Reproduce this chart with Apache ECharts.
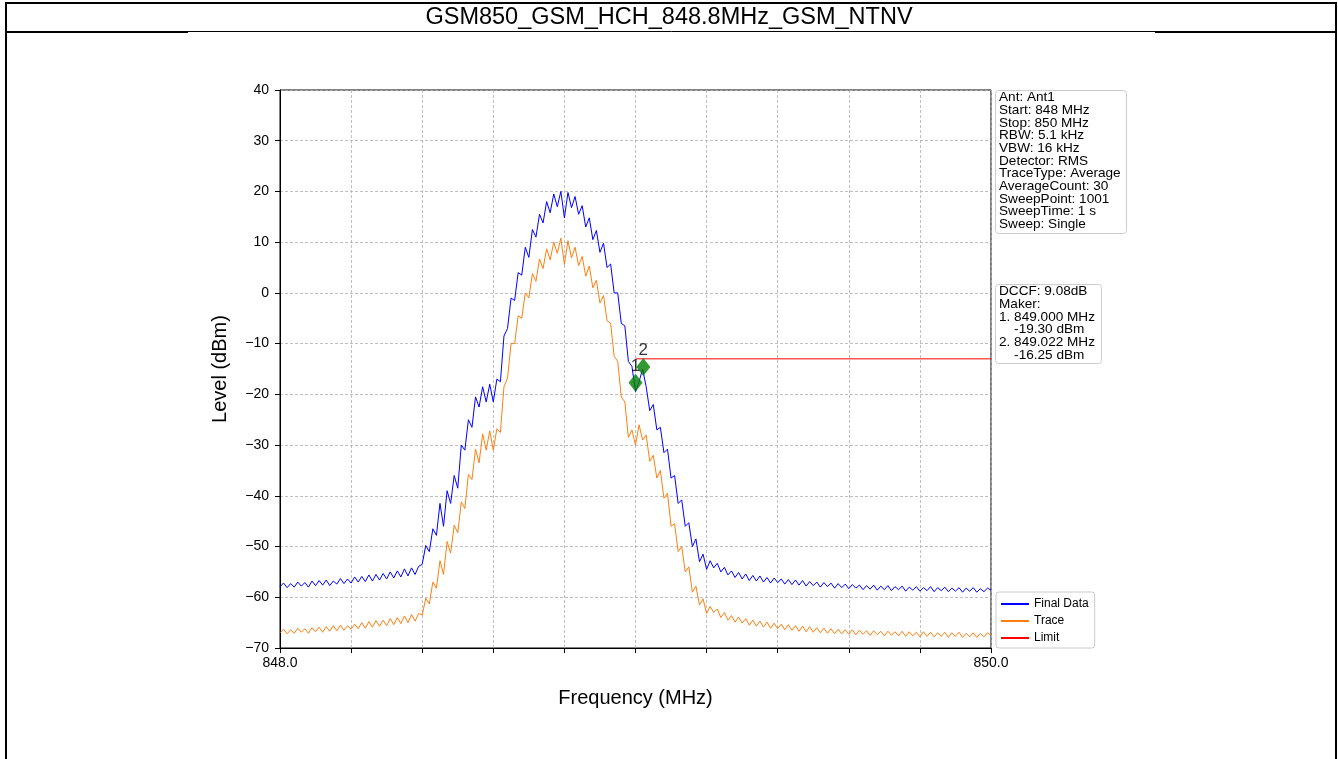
<!DOCTYPE html>
<html>
<head>
<meta charset="utf-8">
<script src="https://cdn.jsdelivr.net/npm/echarts@6/dist/echarts.min.js"></script>
<style>
html,body{margin:0;padding:0;background:#fff;}
#chart{width:1338px;height:759px;}
</style>
</head>
<body>
<div id="chart"></div>
<script>
// ---- data ----
const chartTitle = 'GSM850_GSM_HCH_848.8MHz_GSM_NTNV';
const startFreq = 848.0;   // MHz
const stepFreq = 0.01;     // MHz, sweep spacing of sampled points
const finalData = [
-57.9,-57.2,-58.1,-57.3,-58.0,-57.0,-57.8,-57.1,-58.0,-56.8,
-57.7,-56.7,-57.6,-56.6,-57.7,-56.8,-57.4,-56.3,-57.3,-56.4,
-57.2,-56.0,-57.0,-55.9,-56.9,-55.6,-56.8,-55.5,-56.6,-55.3,
-56.4,-55.0,-56.2,-54.8,-56.0,-54.4,-55.8,-54.2,-55.5,-53.9,
-53.5,-49.8,-51.0,-46.5,-47.8,-41.5,-46.0,-39.0,-41.5,-36.0,
-38.5,-30.0,-31.0,-25.0,-26.5,-20.5,-22.5,-18.5,-21.5,-18.0,
-21.5,-17.0,-17.5,-8.5,-7.0,-1.0,-1.5,4.0,3.5,9.0,
7.0,12.5,11.0,15.5,13.8,18.0,15.8,19.5,17.0,20.0,
14.8,19.8,16.8,19.0,15.5,17.2,13.0,14.8,10.5,12.3,
8.0,9.8,5.0,5.7,0.0,0.0,-6.0,-6.5,-13.5,-14.5,
-19.5,-17.5,-15.0,-18.5,-23.2,-22.0,-27.0,-26.5,-31.5,-30.8,
-36.5,-36.0,-41.5,-40.8,-46.0,-45.3,-50.0,-48.5,-53.0,-51.5,
-54.5,-52.8,-54.2,-53.3,-55.0,-54.1,-55.6,-54.8,-56.1,-55.1,
-56.4,-55.4,-56.7,-55.7,-56.8,-55.8,-57.0,-56.1,-57.2,-56.2,
-57.1,-56.4,-57.4,-56.5,-57.5,-56.6,-57.6,-56.7,-57.8,-56.9,
-57.7,-57.0,-58.0,-57.1,-57.9,-57.2,-58.2,-57.3,-58.1,-57.4,
-58.3,-57.5,-58.2,-57.6,-58.5,-57.7,-58.4,-57.6,-58.6,-57.8,
-58.5,-57.7,-58.7,-57.9,-58.5,-57.8,-58.8,-58.0,-58.6,-57.9,
-58.8,-58.1,-58.7,-57.9,-58.9,-58.1,-58.7,-58.0,-58.9,-58.2,
-58.8,-58.1,-59.0,-58.2,-58.8,-58.1,-59.0,-58.3,-58.9,-58.2,
-58.6
];
const traceData = [
-67.0,-66.3,-67.2,-66.4,-67.1,-66.1,-66.9,-66.2,-67.1,-66.0,
-66.8,-65.9,-66.9,-65.8,-66.7,-65.6,-66.6,-65.5,-66.5,-65.6,
-66.3,-65.3,-66.2,-65.0,-66.1,-64.8,-65.9,-64.6,-65.7,-64.5,
-65.6,-64.2,-65.4,-64.0,-65.2,-63.7,-65.0,-63.4,-64.7,-63.2,
-63.5,-60.2,-61.3,-57.0,-58.2,-52.8,-55.5,-49.0,-51.3,-45.8,
-47.3,-41.2,-42.5,-35.8,-36.8,-30.8,-33.5,-27.8,-31.0,-27.2,
-31.0,-26.8,-27.5,-18.5,-16.8,-10.0,-10.0,-4.5,-5.0,0.0,
-1.0,3.8,2.3,6.7,4.8,8.7,6.5,10.0,7.8,10.8,
5.6,10.3,6.9,9.0,5.4,7.2,3.3,5.3,1.0,2.5,
-2.0,-0.5,-5.5,-6.0,-12.5,-13.5,-20.5,-21.5,-28.5,-27.0,
-30.0,-26.0,-29.0,-28.0,-33.2,-32.0,-36.5,-35.0,-40.5,-39.5,
-46.0,-45.5,-51.0,-50.0,-55.0,-54.0,-59.0,-57.8,-61.5,-60.3,
-63.2,-61.8,-63.0,-62.3,-64.0,-63.0,-64.5,-63.6,-64.9,-63.9,
-65.1,-64.2,-65.5,-64.5,-65.7,-64.7,-65.9,-64.9,-66.1,-65.1,
-66.2,-65.3,-66.4,-65.4,-66.5,-65.6,-66.7,-65.7,-66.8,-65.8,
-66.9,-66.0,-67.0,-66.1,-67.1,-66.2,-67.2,-66.3,-67.2,-66.4,
-67.3,-66.4,-67.4,-66.5,-67.3,-66.6,-67.5,-66.6,-67.4,-66.7,
-67.6,-66.7,-67.5,-66.8,-67.6,-66.7,-67.7,-66.8,-67.6,-66.9,
-67.8,-66.8,-67.7,-66.9,-67.8,-67.0,-67.7,-66.9,-67.9,-67.0,
-67.7,-66.9,-67.9,-67.1,-67.8,-67.0,-67.9,-67.1,-67.8,-67.0,
-67.5
];
const limitFreqs = [849.0, 850.0];
const limitLevels = [-13, -13];
const markerNames = ['1', '2'];
const markerFreqs = [849.000, 849.022];
const markerLevels = [-17.7, -14.6];
const infoLines = ['Ant: Ant1','Start: 848 MHz','Stop: 850 MHz','RBW: 5.1 kHz','VBW: 16 kHz','Detector: RMS','TraceType: Average','AverageCount: 30','SweepPoint: 1001','SweepTime: 1 s','Sweep: Single'];
const markerLines = ['DCCF: 9.08dB','Maker:','1. 849.000 MHz','    -19.30 dBm','2. 849.022 MHz','    -16.25 dBm'];
const yMin = -70, yMax = 40, yStep = 10;
const xMin = 848, xMax = 850, xStep = 0.2;
// ----------------------------------------------

const freqOf = i => +(startFreq + i * stepFreq).toFixed(3);
const finalPts = finalData.map((v, i) => [freqOf(i), v]);
const tracePts = traceData.map((v, i) => [freqOf(i), v]);
const limitPts = limitFreqs.map((f, i) => [f, limitLevels[i]]);
const markerPts = markerFreqs.map((f, i) => ({value: [f, markerLevels[i]], name: markerNames[i]}));

const FONT = 'Liberation Sans, Arial, sans-serif';
const chart = echarts.init(document.getElementById('chart'), null, {renderer: 'canvas'});

const gridStyle = {show: true, lineStyle: {color: '#b0b0b0', width: 0.8, type: [3, 2]}};

chart.setOption({
  animation: false,
  backgroundColor: '#fff',
  grid: {left: 280, top: 90, right: 347, bottom: 111, show: true, borderColor: '#000', borderWidth: 1, backgroundColor: 'transparent'},
  xAxis: {
    type: 'value', min: xMin, max: xMax, interval: xStep,
    name: 'Frequency (MHz)', nameLocation: 'middle', nameGap: 40,
    nameTextStyle: {fontFamily: FONT, fontSize: 20, color: '#000'},
    axisLine: {show: true, onZero: false, lineStyle: {color: '#000', width: 1}},
    axisTick: {show: true, length: 5, lineStyle: {color: '#000'}},
    axisLabel: {
      fontFamily: FONT, fontSize: 14, color: '#000', margin: 8,
      showMinLabel: true, showMaxLabel: true,
      formatter: v => (Math.abs(v - xMin) < 1e-6 || Math.abs(v - xMax) < 1e-6) ? v.toFixed(1) : ''
    },
    splitLine: gridStyle
  },
  yAxis: {
    type: 'value', min: yMin, max: yMax, interval: yStep,
    name: 'Level (dBm)', nameLocation: 'middle', nameGap: 50, nameRotate: 90,
    nameTextStyle: {fontFamily: FONT, fontSize: 20, color: '#000'},
    axisLine: {show: true, onZero: false, lineStyle: {color: '#000', width: 1}},
    axisTick: {show: true, length: 5, lineStyle: {color: '#000'}},
    axisLabel: {fontFamily: FONT, fontSize: 14, color: '#000', margin: 11,
      formatter: v => (v < 0 ? '\u2212' + Math.abs(v) : String(v))},
    splitLine: gridStyle
  },
  legend: {
    orient: 'vertical', left: 996, top: 592, itemGap: 5,
    itemWidth: 28, itemHeight: 2, icon: 'rect',
    padding: [6, 6, 4, 5],
    backgroundColor: '#fff', borderColor: '#cccccc', borderWidth: 1, borderRadius: 3,
    textStyle: {fontFamily: FONT, fontSize: 12, color: '#000', padding: [0, 0, 0, 0]},
    data: ['Final Data', 'Trace', 'Limit']
  },
  series: [
    {name: 'Final Data', type: 'line', data: finalPts, symbol: 'none', lineStyle: {color: '#0000ff', width: 1}, itemStyle: {color: '#0000ff'}, z: 2},
    {name: 'Trace', type: 'line', data: tracePts, symbol: 'none', lineStyle: {color: '#ff7f0e', width: 1}, itemStyle: {color: '#ff7f0e'}, z: 3},
    {name: 'Limit', type: 'line', data: limitPts, symbol: 'none', lineStyle: {color: '#ff0000', width: 1}, itemStyle: {color: '#ff0000'}, z: 4},
    {name: 'Markers', type: 'scatter', data: markerPts, symbol: 'diamond', symbolSize: [14, 18],
      itemStyle: {color: '#008000'}, z: 8,
      label: {show: true, position: 'top', distance: -1, formatter: p => p.name, fontFamily: FONT, fontSize: 17, color: '#000'}}
  ],
  graphic: [
    // frame around the page
    {type: 'line', shape: {x1: 6, y1: 3, x2: 1336, y2: 3}, style: {stroke: '#000', lineWidth: 2}, silent: true},
    {type: 'line', shape: {x1: 6, y1: 2, x2: 6, y2: 759}, style: {stroke: '#000', lineWidth: 2}, silent: true},
    {type: 'line', shape: {x1: 1336, y1: 2, x2: 1336, y2: 759}, style: {stroke: '#000', lineWidth: 2}, silent: true},
    {type: 'line', shape: {x1: 6, y1: 32, x2: 188, y2: 32}, style: {stroke: '#000', lineWidth: 2}, silent: true},
    {type: 'line', shape: {x1: 188, y1: 31.5, x2: 1155, y2: 31.5}, style: {stroke: '#000', lineWidth: 1}, silent: true},
    {type: 'line', shape: {x1: 1155, y1: 32, x2: 1336, y2: 32}, style: {stroke: '#000', lineWidth: 2}, silent: true},
    {type: 'text', x: 669, y: 18, style: {text: chartTitle, fontFamily: FONT, fontSize: 23.5, fill: '#000', textAlign: 'center', textVerticalAlign: 'middle'}, silent: true},
    // info box
    {type: 'rect', shape: {x: 995.5, y: 90.5, width: 131, height: 143, r: 3}, style: {fill: '#fff', stroke: '#cccccc', lineWidth: 1}, silent: true, z: 10},
    {type: 'text', x: 999, y: 91, z: 11, style: {text: infoLines.join('\n'), fontFamily: FONT, fontSize: 13.6, lineHeight: 12.7, fill: '#000', textAlign: 'left', textVerticalAlign: 'top'}, silent: true},
    // marker box
    {type: 'rect', shape: {x: 995.5, y: 284.5, width: 106, height: 79, r: 3}, style: {fill: '#fff', stroke: '#cccccc', lineWidth: 1}, silent: true, z: 10},
    {type: 'text', x: 999, y: 285, z: 11, style: {text: markerLines.join('\n'), fontFamily: FONT, fontSize: 13.6, lineHeight: 12.7, fill: '#000', textAlign: 'left', textVerticalAlign: 'top'}, silent: true}
  ]
});
</script>
</body>
</html>
